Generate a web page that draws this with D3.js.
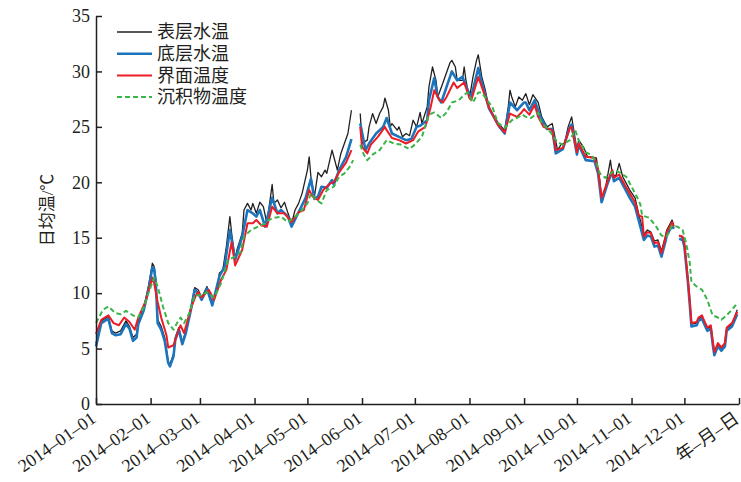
<!DOCTYPE html>
<html>
<head>
<meta charset="utf-8">
<script src="https://cdn.jsdelivr.net/npm/d3@7"></script>
<style>
  body { margin: 0; background: #fff; }
</style>
</head>
<body>
<div id="chart"></div>
<script>
var width = 741;
var height = 482;

// legend names
var seriesNames = ["表层水温", "底层水温", "界面温度", "沉积物温度"];

var xTickLabels = ["2014–01–01", "2014–02–01", "2014–03–01", "2014–04–01", "2014–05–01", "2014–06–01",
	"2014–07–01", "2014–08–01", "2014–09–01", "2014–10–01", "2014–11–01", "2014–12–01", "年–月–日"];

var yTicks = [0, 5, 10, 15, 20, 25, 30, 35];

// [day of 2014 (0 = Jan 1), daily mean temperature]; null = no data
var surface = [[0,5.5],[3,7.5],[5,7.7],[7,7.9],[9,6.6],[11,6.4],[14,6.6],[17,7.5],[19,7.0],[21,6.0],[23,6.3],[24,7.5],[27,8.6],[28,9.3],[30,10.8],[32,12.7],[33,12.4],[34,11.2],[35,7.6],[37,7.0],[39,6.0],[41,3.8],[42,3.6],[44,4.5],[45,6.0],[47,6.9],[49,5.6],[51,6.6],[54,8.8],[56,10.5],[58,10.3],[60,9.6],[63,10.6],[65,9.6],[66,9.2],[69,10.3],[70,11.8],[72,12.1],[74,14.2],[76,16.9],[77,15.4],[79,13.0],[80,13.9],[83,15.4],[84,17.5],[86,18.1],[88,17.5],[89,18.1],[91,17.2],[93,18.2],[95,17.8],[97,16.3],[100,19.8],[101,18.1],[103,18.4],[105,17.7],[107,18.2],[109,17.2],[111,16.3],[113,17.5],[115,18.1],[117,19.0],[120,21.1],[121,22.3],[122,20.5],[124,18.7],[126,20.9],[128,20.5],[130,21.1],[131,20.8],[134,22.9],[135,22.3],[137,21.1],[139,22.6],[141,23.5],[143,24.4],[145,26.5],
	[147,null],
	[150,26.2],[151,23.5],[154,23.8],[155,25.0],[157,26.2],[159,25.3],[161,26.2],[163,26.8],[164,27.6],[166,26.5],[167,25.0],[168,25.3],[171,24.7],[172,25.0],[174,24.1],[176,24.4],[178,24.2],[180,25.6],[182,25.0],[184,26.3],[185,25.3],[188,26.8],[189,28.6],[191,30.4],[193,29.2],[194,27.7],[197,29.0],[199,29.9],[201,30.8],[202,31.0],[204,30.4],[205,29.2],[208,29.2],[209,30.4],[210,29.2],[212,27.6],[214,29.5],[216,31.0],[217,31.5],[219,29.5],[221,28.3],[223,26.8],[226,25.9],[229,25.2],[232,24.7],[234,26.8],[235,28.3],[236,27.7],[238,26.8],[240,27.7],[242,27.4],[244,28.0],[246,27.0],[248,27.9],[251,27.2],[253,25.9],[256,25.0],[259,25.3],[260,24.5],[262,22.9],[264,23.4],[266,23.5],[268,25.0],[270,25.9],[271,24.9],[273,22.9],[274,23.8],[277,23.1],[279,22.3],[281,22.3],[284,22.2],[286,20.2],[287,18.4],[289,19.3],[290,20.2],[292,22.0],[293,20.8],[295,20.5],[297,21.7],[299,20.5],[301,19.9],[303,19.3],[306,18.6],[308,17.2],[311,15.3],[313,15.7],[315,15.5],[317,14.7],[319,14.8],[321,13.8],[323,15.0],[324,15.7],[327,16.6],[328,16.1],
	[330,null],
	[331,15.2],[333,15.0],[334,14.4],[336,11.2],[337,9.3],[338,7.2],[341,7.3],[342,7.7],[344,7.9],[345,7.5],[347,6.8],[349,7.0],[350,5.7],[351,4.6],[353,5.4],[355,5.0],[357,5.4],[358,6.8],[361,7.2],[364,8.5]];

var bottom = [[0,5.2],[3,7.3],[5,7.5],[7,7.7],[9,6.4],[11,6.2],[14,6.3],[17,7.2],[19,6.8],[21,5.7],[23,6.0],[24,7.2],[27,8.4],[28,9.1],[30,10.5],[32,12.3],[33,12.2],[34,10.8],[35,7.3],[37,6.7],[39,5.7],[41,3.7],[42,3.4],[44,4.3],[45,5.8],[47,6.7],[49,5.4],[51,6.4],[54,8.6],[56,10.3],[58,10.0],[60,9.4],[63,10.4],[66,8.9],[70,11.5],[73,12.4],[76,15.7],[79,13.0],[83,15.1],[86,17.5],[89,17.2],[91,16.9],[93,17.5],[96,16.0],[100,18.6],[103,17.2],[105,17.5],[109,16.9],[111,16.0],[115,17.3],[119,18.6],[122,20.3],[124,18.5],[126,18.7],[128,19.6],[131,19.5],[134,20.2],[135,19.8],[138,21.1],[142,22.3],[145,23.9],
	[147,null],
	[150,25.3],[153,22.9],[155,23.5],[159,24.4],[163,25.0],[165,25.8],[168,24.4],[172,24.1],[176,23.8],[179,23.9],[182,25.0],[184,25.1],[188,25.6],[189,27.4],[192,29.4],[194,27.7],[196,27.2],[199,28.6],[202,30.0],[205,29.2],[208,29.5],[211,28.3],[213,27.7],[217,30.3],[219,29.0],[223,26.7],[229,25.0],[232,24.4],[235,27.2],[239,26.5],[243,27.2],[244,27.2],[246,26.5],[249,27.4],[252,26.0],[256,24.8],[259,24.8],[261,22.6],[265,23.0],[269,25.0],[270,25.2],[273,22.5],[274,23.4],[278,22.0],[283,21.9],[285,20.8],[287,18.2],[290,19.7],[293,21.0],[294,20.1],[297,20.4],[300,19.5],[303,18.6],[306,17.8],[308,16.6],[311,14.8],[313,15.2],[315,15.1],[317,14.2],[319,14.3],[321,13.3],[323,14.5],[324,15.2],[327,16.1],[328,15.8],
	[330,null],
	[331,14.9],[333,14.8],[334,14.2],[336,11.0],[337,9.1],[338,7.0],[341,7.1],[342,7.5],[344,7.7],[345,7.3],[347,6.6],[349,6.8],[350,5.5],[351,4.4],[353,5.2],[355,4.8],[357,5.2],[358,6.6],[361,7.0],[364,8.1]];

var interfaceTemp = [[0,6.3],[3,7.6],[7,8.0],[10,7.3],[13,7.1],[16,7.8],[19,7.4],[22,6.7],[24,7.8],[28,9.2],[32,11.4],[33,10.9],[35,9.2],[37,7.8],[40,6.2],[41,5.1],[44,5.3],[47,6.7],[48,7.1],[50,6.4],[54,8.7],[57,9.9],[58,10.1],[60,9.6],[64,10.3],[67,9.4],[71,11.2],[74,12.1],[77,14.6],[79,12.5],[83,13.9],[86,16.3],[89,16.3],[91,16.6],[94,16.1],[97,16.0],[100,17.8],[103,17.2],[107,17.2],[111,16.4],[115,17.3],[118,17.5],[121,19.3],[123,18.7],[126,18.4],[129,19.3],[133,19.9],[135,20.0],[138,20.9],[142,21.8],[145,22.9],
	[147,null],
	[150,25.0],[151,23.2],[154,22.6],[156,23.4],[160,24.1],[164,25.0],[165,24.7],[168,24.0],[172,23.8],[176,23.5],[180,23.8],[183,24.6],[187,25.0],[190,26.8],[192,28.3],[195,27.4],[197,27.2],[199,27.7],[203,29.0],[205,28.5],[209,29.0],[212,27.6],[213,27.4],[217,29.5],[219,28.6],[223,26.8],[228,25.2],[232,24.5],[235,26.2],[239,25.9],[241,26.2],[243,26.6],[246,26.1],[249,27.0],[251,25.9],[254,25.0],[259,24.7],[261,22.9],[265,23.1],[269,24.9],[270,25.0],[273,22.7],[274,23.5],[278,22.3],[283,22.2],[285,21.1],[287,18.6],[290,19.9],[293,21.1],[294,20.4],[297,20.7],[300,19.8],[303,19.0],[306,18.2],[308,17.0],[310,16.9],[311,15.1],[313,15.5],[315,15.4],[317,14.5],[319,14.6],[321,13.6],[323,14.8],[324,15.5],[327,16.4],[328,16.0],
	[330,null],
	[331,15.2],[333,15.1],[334,14.5],[336,11.2],[337,9.4],[338,7.3],[341,7.4],[342,7.8],[344,8.0],[345,7.6],[347,6.9],[349,7.1],[350,5.8],[351,4.7],[353,5.5],[355,5.1],[357,5.5],[358,6.9],[361,7.3],[364,8.3]];

var sediment = [[0,7.3],[4,8.5],[7,8.8],[11,8.2],[14,8.1],[17,8.4],[21,8.0],[24,7.8],[27,8.7],[30,10.1],[33,11.4],[35,10.6],[38,8.8],[41,7.3],[44,6.7],[46,7.3],[48,7.8],[50,7.3],[53,8.2],[56,9.8],[60,9.8],[63,10.1],[67,9.6],[71,10.9],[75,13.0],[79,13.3],[82,13.7],[84,15.1],[88,15.7],[92,16.0],[96,16.3],[98,16.6],[101,16.8],[105,16.9],[109,16.4],[113,16.9],[116,17.3],[120,18.1],[122,19.0],[125,18.4],[128,18.1],[131,19.3],[135,19.6],[138,20.5],[141,20.8],[144,21.4],[146,22.0],
	[148,null],
	[150,23.4],[152,22.5],[154,22.0],[157,22.5],[161,22.9],[165,23.8],[169,23.5],[173,23.4],[178,23.0],[181,23.4],[185,24.1],[189,26.1],[192,26.3],[196,25.8],[199,26.3],[202,27.2],[206,27.4],[209,27.9],[211,28.1],[214,27.2],[217,28.1],[219,28.1],[222,27.4],[225,26.8],[228,25.4],[232,24.9],[236,25.6],[239,25.8],[242,26.1],[244,25.9],[247,25.8],[251,26.3],[253,25.3],[256,24.9],[259,24.3],[262,23.6],[265,23.4],[269,23.8],[272,24.7],[274,23.8],[278,22.7],[281,22.5],[284,21.8],[286,20.8],[289,20.4],[293,20.9],[295,21.1],[298,20.8],[301,20.5],[304,19.6],[307,18.7],[309,18.0],[310,17.0],[314,16.8],[318,16.0],[321,15.2],[324,15.1],[327,16.1],[330,16.0],[333,15.7],[335,14.5],[337,12.8],[338,11.0],[341,10.6],[344,10.3],[347,9.4],[350,8.0],[353,7.8],[355,7.6],[358,8.0],[361,8.5],[364,9.1]];

var seriesData = [surface, bottom, interfaceTemp, sediment];

// drawing styles for the four series
var seriesStyle = [
	{color: "#231f20", width: 1.3, dash: null},
	{color: "#1c75bc", width: 2.6, dash: null},
	{color: "#ed1c24", width: 2.0, dash: null},
	{color: "#39b54a", width: 2.0, dash: "5,3"}
];

var numFont = "'Liberation Serif', 'Times New Roman', serif";
var cjkFont = "'Liberation Serif', 'Noto Sans CJK SC', serif";

var svg = d3.select("#chart")
	.append("svg")
	.attr("width", width)
	.attr("height", height);

var start = new Date(2014, 0, 1);

var x = d3.scaleTime()
	.domain([start, new Date(2015, 0, 1)])
	.range([96, 739]);

var y = d3.scaleLinear()
	.domain([0, 35])
	.range([404, 16]);

function dayToDate(d){
	return d3.timeDay.offset(start, d);
}

var lineGen = d3.line()
	.defined(function(d){ return d[1] !== null; })
	.x(function(d){ return x(dayToDate(d[0])); })
	.y(function(d){ return y(d[1]); });

// series
var lines_g = svg.append("g");

seriesData.forEach(function(data, i){
	lines_g.append("path")
		.datum(data)
		.attr("d", lineGen)
		.attr("fill", "none")
		.attr("stroke", seriesStyle[i].color)
		.attr("stroke-width", seriesStyle[i].width)
		.attr("stroke-linejoin", "round")
		.attr("stroke-dasharray", seriesStyle[i].dash);
});

// y axis
var yAxis = d3.axisLeft(y)
	.tickValues(yTicks)
	.tickSizeInner(-6)
	.tickSizeOuter(0)
	.tickPadding(6);

var yAxis_g = svg.append("g")
	.attr("transform", "translate(96,0)")
	.call(yAxis);

// x axis
var monthTicks = d3.timeMonth.range(start, new Date(2015, 0, 2));

var xAxis = d3.axisBottom(x)
	.tickValues(monthTicks)
	.tickSizeInner(-6)
	.tickSizeOuter(0)
	.tickFormat(function(d, i){ return xTickLabels[i]; });

var xAxis_g = svg.append("g")
	.attr("transform", "translate(0,404)")
	.call(xAxis);

svg.selectAll(".domain, .tick line")
	.attr("stroke", "#231f20")
	.attr("stroke-width", 1.5);

yAxis_g.selectAll("text")
	.attr("font-family", numFont)
	.attr("font-size", 18)
	.attr("fill", "#231f20");

xAxis_g.selectAll("text")
	.attr("font-family", cjkFont)
	.attr("font-size", 18)
	.attr("fill", "#231f20")
	.attr("text-anchor", "end")
	.attr("dy", "0.35em")
	.attr("y", 0)
	.attr("transform", "translate(-3,12) rotate(-35)");

// y axis title
svg.append("text")
	.attr("transform", "translate(53,210) rotate(-90)")
	.attr("text-anchor", "middle")
	.attr("font-family", cjkFont)
	.attr("font-size", 17)
	.attr("fill", "#231f20")
	.text("日均温/℃");

// legend
var legend = svg.append("g");

seriesNames.forEach(function(name, i){
	var ly = 32 + i * 21.7;
	legend.append("line")
		.attr("x1", 117)
		.attr("x2", 152)
		.attr("y1", ly)
		.attr("y2", ly)
		.attr("stroke", seriesStyle[i].color)
		.attr("stroke-width", seriesStyle[i].width)
		.attr("stroke-dasharray", seriesStyle[i].dash);
	legend.append("text")
		.attr("x", 157)
		.attr("y", ly)
		.attr("dy", "0.35em")
		.attr("font-family", cjkFont)
		.attr("font-size", 18)
		.attr("fill", "#231f20")
		.text(name);
});
</script>
</body>
</html>
